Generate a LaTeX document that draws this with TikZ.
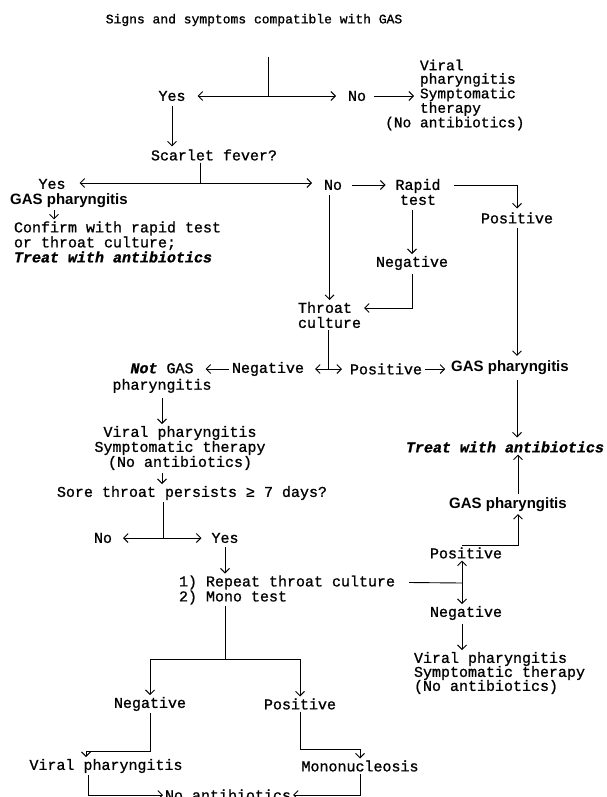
\documentclass[tikz,border=0pt]{standalone}
\usepackage{fontspec}
\setmonofont{Liberation Mono}[FakeBold=1]
\newfontfamily\gasfont{Liberation Sans}
\usetikzlibrary{arrows.meta}
\usetikzlibrary{calc}

\begin{document}
\begin{tikzpicture}[x=1pt,y=-1pt]
  \tikzset{
    txt/.style={font=\ttfamily\fontsize{15}{15}\selectfont,inner sep=1pt,outer sep=1pt},
    gas/.style={font=\gasfont\bfseries\fontsize{15}{15}\selectfont,inner sep=1pt,outer sep=1pt},
    arr/.style={-{Straight Barb[length=4.5pt,width=9pt]},line width=0.9pt},
    lin/.style={line width=0.9pt},
  }
  \useasboundingbox (0,0) rectangle (607,797);
  %TITLE
  \node[txt,font=\ttfamily\fontsize{13}{13}\selectfont] (title) at (254,20) {Signs and symptoms compatible with GAS};
  %FIRST SPLIT
  \coordinate (t1) at (268,57);
  \coordinate (j1) at (268,96);
  \node[txt] (yes1) at (172,96) {Yes};
  \node[txt] (no1) at (357,96) {No};
  \node[txt,anchor=west,align=left,font=\ttfamily\fontsize{14.5}{13.5}\selectfont] (viral1) at (418,95) {Viral\\pharyngitis\\Symptomatic\\therapy\\\llap{(No }antibiotics)};
  \draw[lin] (t1) -- (j1);
  \draw[arr,shorten >=10pt] (j1) -- (yes1.east);
  \draw[arr,shorten >=10pt] (j1) -- (no1.west);
  \draw[arr,shorten <=6pt,shorten >=4pt] (no1.east) -- (no1.east -| viral1.west);
  %SCARLET FEVER
  \node[txt] (scarlet) at (214,155) {Scarlet fever?};
  \draw[arr,shorten <=3pt,shorten >=1pt] (yes1.south) -- (yes1.south |- scarlet.north);
  \coordinate (j2) at (200,183);
  \draw[lin] (j2 |- scarlet.south) -- (j2);
  \node[txt] (yes2) at (52,184) {Yes};
  \node[txt] (no2) at (333,185) {No};
  \draw[arr,shorten >=12pt] (j2) -- (j2 -| yes2.east);
  \draw[arr,shorten >=10pt] (j2) -- (j2 -| no2.west);
  \node[gas] (gas1) at (69,201) {GAS pharyngitis};
  \node[txt,anchor=west,align=left] (confirm) at (12,242) {Confirm with rapid test\\or throat culture;\\\textbf{\textit{Treat with antibiotics}}};
  \draw[arr] ([xshift=-15pt]gas1.south) -- ([xshift=-15pt]gas1.south |- confirm.north);
  %RAPID TEST
  \node[txt,align=center] (rapid) at (418,192) {Rapid\\test};
  \draw[arr,shorten <=8pt,shorten >=8pt] (no2.east) -- (no2.east -| rapid.west);
  \node[txt] (pos1) at (517,218) {Positive};
  \draw[arr,shorten >=2pt] ([xshift=11pt]rapid.east |- no2) -| (pos1.north);
  \node[gas] (gas2) at (510,368) {GAS pharyngitis};
  \draw[arr,shorten <=2pt,shorten >=3pt] (pos1.south) -- (pos1.south |- gas2.north);
  \node[txt,font=\ttfamily\bfseries\itshape\fontsize{15}{15}\selectfont] (treat1) at (505,447) {Treat with antibiotics};
  \draw[arr,shorten <=3pt,shorten >=2pt] (pos1.south |- gas2.south) -- (pos1.south |- treat1.north);
  %THROAT CULTURE
  \node[txt,anchor=west,align=left] (throat) at (296,315) {Throat\\culture};
  \draw[arr,shorten <=3pt] (throat.north |- no2.south) -- (throat.north);
  \node[txt] (neg1) at (412,263) {Negative};
  \draw[arr,shorten <=3pt] (neg1.north |- rapid.south) -- (neg1.north);
  \draw[arr,shorten <=2pt] (neg1.south) |- ($(throat.east)+(1,-7)$);
  \coordinate (j3) at (328,369);
  \draw[lin] (j3 |- throat.south) -- (j3);
  \node[txt] (neg2) at (268,369) {Negative};
  \node[txt] (pos2) at (386,369) {Positive};
  \draw[arr,shorten >=9pt] (j3) -- (j3 -| neg2.east);
  \draw[arr,shorten >=6pt] (j3) -- (j3 -| pos2.west);
  \draw[arr,shorten <=1pt,shorten >=4pt] (pos2.east) -- (pos2.east -| gas2.west);
  \node[txt,align=center,font=\ttfamily\fontsize{15}{16.5}\selectfont] (notgas) at (162,378) {\textbf{\textit{Not}} GAS\\pharyngitis};
  \draw[arr,shorten <=1pt,shorten >=-8pt] (neg2.west) -- (neg2.west -| notgas.east);
  %VIRAL, SORE THROAT
  \node[txt,align=center] (viral2) at (180,448) {Viral pharyngitis\\Symptomatic therapy\\(No antibiotics)};
  \draw[arr,shorten <=3pt] (notgas.south) -- (notgas.south |- viral2.north);
  \node[txt] (sore) at (192,493) {Sore throat persists ≥ 7 days?};
  \draw[arr,shorten <=1pt] (viral2.south -| notgas.south) -- (sore.north -| notgas.south);
  \coordinate (j4) at (163,538);
  \draw[lin] (sore.south -| j4) -- (j4);
  \node[txt] (no3) at (103,538) {No};
  \node[txt] (yes3) at (225,538) {Yes};
  \draw[arr,shorten >=9pt] (j4) -- (no3.east);
  \draw[arr,shorten >=8pt] (j4) -- (yes3.west);
  \node[txt,anchor=west,align=left] (repeat) at (177,590) {1) Repeat throat culture\\2) Mono test};
  \draw[arr,shorten <=2pt] (yes3.south) -- (yes3.south |- repeat.north);
  %REPEAT CULTURE RESULT
  \coordinate (j5) at (462,583);
  \draw[lin] ($(repeat.east)+(12,-7.5)$) -- (j5);
  \node[txt] (pos3) at (466,553) {Positive};
  \node[txt] (neg3) at (466,613) {Negative};
  \draw[arr] (j5) -- (j5 |- pos3.south);
  \draw[arr] (j5) -- (j5 |- neg3.north);
  \node[gas] (gas3) at (508,505) {GAS pharyngitis};
  \draw[arr] (j5 |- pos3.north) -| ([xshift=10pt]gas3.south);
  \draw[arr,shorten <=2pt] ([xshift=10pt]gas3.north) -- ([xshift=10pt]gas3.north |- treat1.south);
  \node[txt,anchor=west,align=left,font=\ttfamily\fontsize{15}{14}\selectfont] (viral3) at (412,673) {Viral pharyngitis\\Symptomatic therapy\\(No antibiotics)};
  \draw[arr,shorten <=2pt] (j5 |- neg3.south) -- (j5 |- viral3.north);
  %MONO TEST
  \coordinate (j6) at (225,659);
  \draw[lin] (repeat.south -| j6) -- (j6);
  \node[txt] (neg4) at (150,704) {Negative};
  \node[txt] (pos4) at (300,704) {Positive};
  \draw[arr] (j6) -| (neg4.north);
  \draw[arr] (j6) -| (pos4.north);
  \node[txt] (viral4) at (106,766) {Viral pharyngitis};
  \node[txt] (mono) at (360,766) {Mononucleosis};
  \draw[arr] (neg4.south) -- ++(0,38) -| ([xshift=-20pt]viral4.north);
  \draw[arr] (pos4.south) -- ++(0,38) -| (mono.north);
  \node[txt] (noab) at (228,795) {No antibiotics};
  \draw[arr] ([xshift=-18pt]viral4.south) |- (noab.west);
  \draw[arr] (mono.south) |- (noab.east);
\end{tikzpicture}
\end{document}
